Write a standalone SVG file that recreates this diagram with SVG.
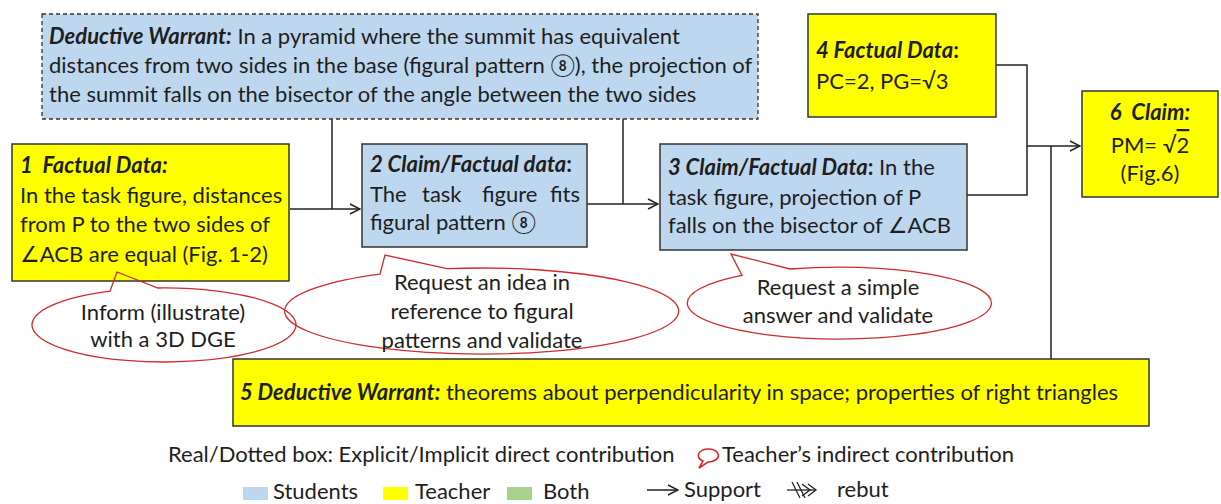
<svg xmlns="http://www.w3.org/2000/svg" width="1221" height="504" viewBox="0 0 1221 504">
<defs>
<style>
text{font-family:Lato,"Open Sans","DejaVu Sans","Noto Sans CJK SC",sans-serif;font-size:22px;fill:#1e1e1e}
.bi{font-weight:bold;font-style:italic}
.b{font-weight:bold}
.stu{fill:#bdd7ee}
.tea{fill:#ffff00}
.both{fill:#a9d18e}
.box{stroke:#333;stroke-width:1.5}
.dash{stroke:#333;stroke-width:1.3;stroke-dasharray:4 3}
.con{fill:none;stroke:#222;stroke-width:1.5}
.bub{fill:none;stroke:#d02a2a;stroke-width:1.3}
.mid{text-anchor:middle}
</style>
<marker id="arr" viewBox="0 0 12 12" refX="11" refY="6" markerWidth="12" markerHeight="12" markerUnits="userSpaceOnUse" orient="auto">
<path d="M1,1 L11,6 L1,11" fill="none" stroke="#222" stroke-width="1.4"/>
</marker>
</defs>

<g id="connectors">
<line class="con" x1="332" y1="119" x2="332" y2="209"/>
<line class="con" x1="290" y1="209" x2="360" y2="209" marker-end="url(#arr)"/>
<line class="con" x1="623" y1="119" x2="623" y2="204"/>
<line class="con" x1="587" y1="204" x2="658" y2="204" marker-end="url(#arr)"/>
<polyline class="con" points="996,65 1027,65 1027,195 967,195"/>
<line class="con" x1="1027" y1="146" x2="1080" y2="146" marker-end="url(#arr)"/>
<line class="con" x1="1051" y1="146" x2="1051" y2="359"/>
</g>

<g id="warrant-dw">
<rect class="stu dash" x="42" y="14" width="716" height="105"/>
<text x="49" y="44"><tspan class="bi">Deductive Warrant:</tspan> In a pyramid where the summit has equivalent</text>
<text x="49" y="73">distances from two sides in the base (figural pattern ⑧), the projection of</text>
<text x="49" y="102">the summit falls on the bisector of the angle between the two sides</text>
</g>

<g id="node1">
<rect class="tea box" x="12" y="144" width="277" height="137"/>
<text x="20" y="173" class="bi">1&#160; Factual Data:</text>
<text x="20" y="203">In the task figure, distances</text>
<text x="20" y="232">from P to the two sides of</text>
<text x="20" y="262">∠ACB are equal (Fig. 1-2)</text>
</g>

<g id="node2">
<rect class="stu box" x="362" y="144" width="225" height="103"/>
<text x="370" y="172"><tspan class="bi">2 Claim/Factual data</tspan><tspan class="b">:</tspan></text>
<text x="370" y="202">The</text>
<text x="422" y="202">task</text>
<text x="482" y="202">figure</text>
<text x="580" y="202" text-anchor="end">fits</text>
<text x="370" y="230">figural pattern ⑧</text>
</g>

<g id="node3">
<rect class="stu box" x="660" y="144" width="307" height="106"/>
<text x="668" y="175"><tspan class="bi">3 Claim/Factual Data</tspan><tspan class="b">:</tspan> In the</text>
<text x="668" y="205">task figure, projection of P</text>
<text x="668" y="233">falls on the bisector of ∠ACB</text>
</g>

<g id="node4">
<rect class="tea box" x="808" y="14" width="188" height="103"/>
<text x="816" y="58"><tspan class="bi">4 Factual Data</tspan><tspan class="b">:</tspan></text>
<text x="816" y="89">PC=2, PG=√3</text>
</g>

<g id="node6">
<rect class="tea box" x="1082" y="91" width="136" height="106"/>
<text x="1150" y="120" class="bi mid">6&#160; Claim:</text>
<text x="1150" y="153" class="mid">PM= √<tspan text-decoration="overline">2</tspan></text>
<text x="1150" y="181" class="mid">(Fig.6)</text>
</g>

<g id="node5">
<rect class="tea box" x="233" y="359" width="916" height="67"/>
<text x="240" y="400"><tspan class="bi">5 Deductive Warrant:</tspan> theorems about perpendicularity in space; properties of right triangles</text>
</g>

<g id="bubble1">
<path class="bub" d="M110,291.2 L117,272 L158,288 A132,37 0 1 1 110,291.2 Z"/>
<text x="163" y="320" class="mid">Inform (illustrate)</text>
<text x="163" y="347" class="mid">with a 3D DGE</text>
</g>

<g id="bubble2">
<path class="bub" d="M380,274.2 L385,255 L447,268.7 A197,43 0 1 1 380,274.2 Z"/>
<text x="482" y="290" class="mid">Request an idea in</text>
<text x="482" y="319" class="mid">reference to figural</text>
<text x="482" y="348" class="mid">patterns and validate</text>
</g>

<g id="bubble3">
<path class="bub" d="M742,275.4 L731,254 L790,269 A152,36 0 1 1 742,275.4 Z"/>
<text x="838" y="295" class="mid">Request a simple</text>
<text x="838" y="323" class="mid">answer and validate</text>
</g>

<g id="legend">
<text x="168" y="462">Real/Dotted box: Explicit/Implicit direct contribution</text>
<path d="M703,461 A10,6.5 0 1 1 708,462 L699,468 Z" fill="none" stroke="#d02a2a" stroke-width="1.6"/>
<text x="722" y="462">Teacher’s indirect contribution</text>
<rect class="stu" x="243" y="487" width="25" height="13"/>
<text x="273" y="499">Students</text>
<rect class="tea" x="383" y="487" width="25" height="13"/>
<text x="415" y="499">Teacher</text>
<rect class="both" x="507" y="487" width="25" height="13"/>
<text x="543" y="499">Both</text>
<line class="con" x1="647" y1="490" x2="678" y2="490" marker-end="url(#arr)"/>
<text x="684" y="497">Support</text>
<g fill="none" stroke="#222" stroke-width="1.3">
<line x1="787" y1="490" x2="815" y2="490"/>
<line x1="792" y1="482" x2="800" y2="498"/>
<line x1="797" y1="482" x2="805" y2="498"/>
<path d="M802,484 L810,490 L802,496"/>
<path d="M808,484 L816,490 L808,496"/>
</g>
<text x="837" y="497">rebut</text>
</g>
</svg>
